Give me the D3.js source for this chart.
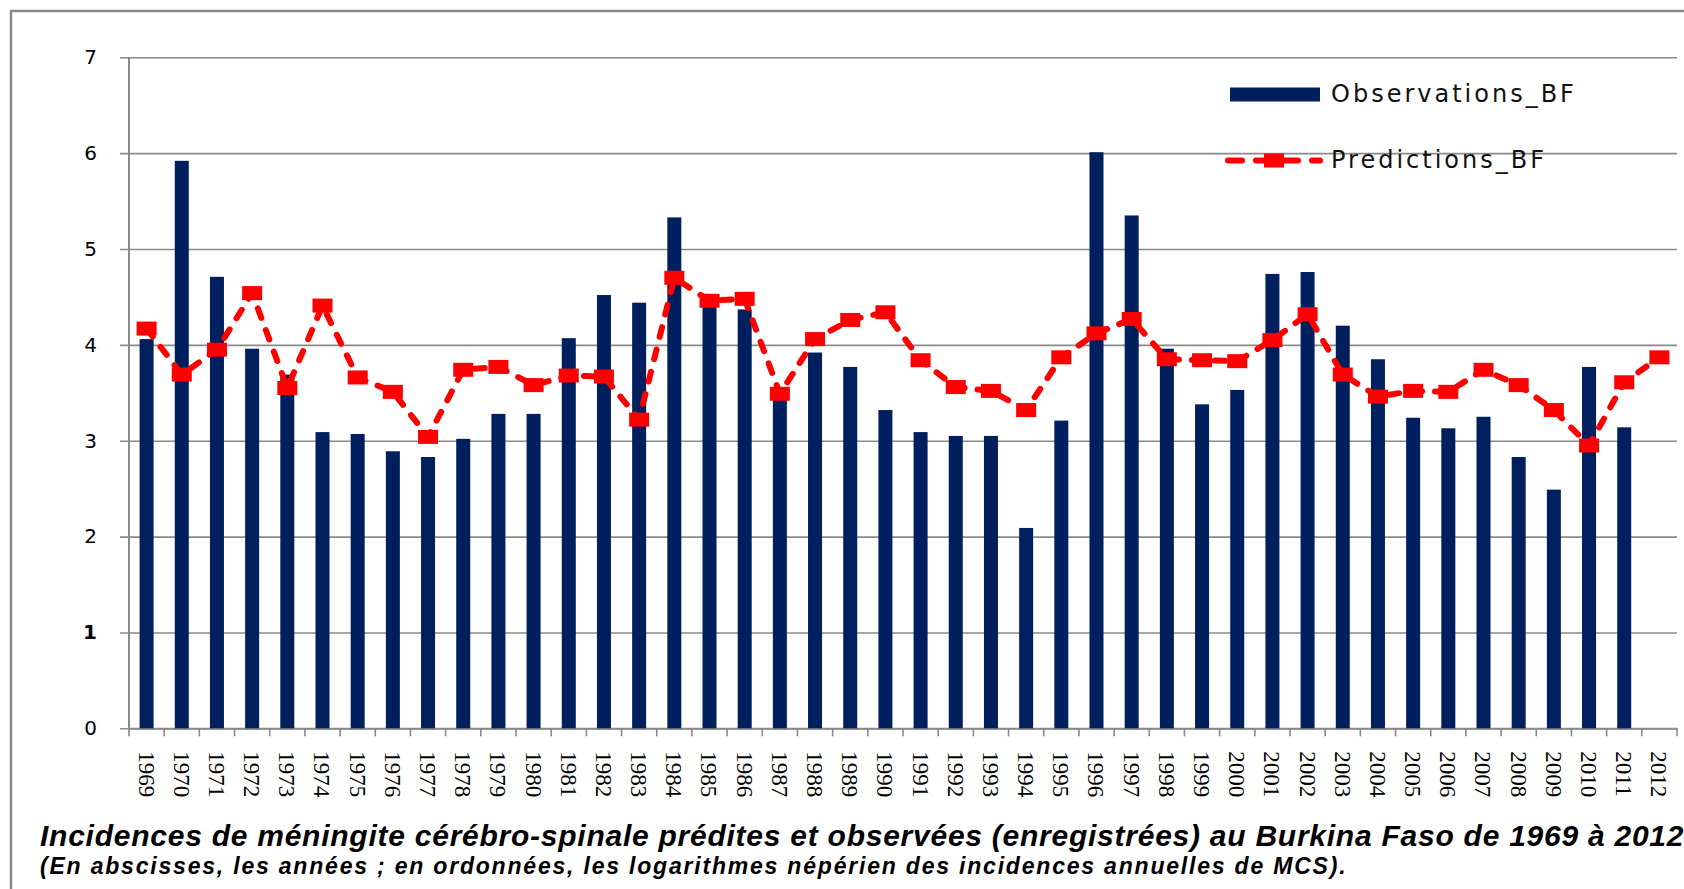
<!DOCTYPE html>
<html>
<head>
<meta charset="utf-8">
<script src="https://cdnjs.cloudflare.com/ajax/libs/d3/7.8.5/d3.min.js"></script>
<style>
    body { margin: 0; background: #fff; }
    svg { display: block; }
</style>
</head>
<body>
<svg width="1684" height="889"></svg>
<script>
// values
var years = ["1969", "1970", "1971", "1972", "1973", "1974", "1975", "1976", "1977", "1978",
    "1979", "1980", "1981", "1982", "1983", "1984", "1985", "1986", "1987", "1988",
    "1989", "1990", "1991", "1992", "1993", "1994", "1995", "1996", "1997", "1998",
    "1999", "2000", "2001", "2002", "2003", "2004", "2005", "2006", "2007", "2008",
    "2009", "2010", "2011", "2012"];

var observations = [4.06, 5.92, 4.71, 3.96, 3.69, 3.09, 3.07, 2.89, 2.83, 3.02,
    3.28, 3.28, 4.07, 4.52, 4.44, 5.33, 4.45, 4.37, 3.45, 3.92,
    3.77, 3.32, 3.09, 3.05, 3.05, 2.09, 3.21, 6.01, 5.35, 3.96,
    3.38, 3.53, 4.74, 4.76, 4.20, 3.85, 3.24, 3.13, 3.25, 2.83,
    2.49, 3.77, 3.14, null];

var predictions = [4.17, 3.69, 3.95, 4.54, 3.55, 4.41, 3.66, 3.51, 3.04, 3.74,
    3.77, 3.58, 3.68, 3.67, 3.22, 4.70, 4.46, 4.48, 3.49, 4.06,
    4.26, 4.34, 3.84, 3.56, 3.52, 3.32, 3.87, 4.12, 4.27, 3.85,
    3.84, 3.83, 4.05, 4.32, 3.69, 3.46, 3.52, 3.51, 3.74, 3.58,
    3.32, 2.95, 3.61, 3.87];

var yTicks = [0, 1, 2, 3, 4, 5, 6, 7];

var seriesNames = ["Observations_BF", "Predictions_BF"];

var captionTitle = "Incidences de méningite cérébro-spinale prédites et observées (enregistrées) au Burkina Faso de 1969 à 2012";
var captionNote = "(En abscisses, les années ; en ordonnées, les logarithmes népérien des incidences annuelles de MCS).";

(function () {
    var navy = "#001f5f";
    var red = "#ff0000";
    var grey = "#8a8a8a";

    var plot = { left: 129, right: 1677, top: 57.3, bottom: 728.3 };

    var svg = d3.select("svg");

    var x = d3.scaleBand().domain(years).range([plot.left, plot.right]).padding(0);
    var y = d3.scaleLinear().domain([0, 7]).range([plot.bottom, plot.top]);

    // outer frame (runs off the right and bottom of the picture)
    svg.append("path")
        .attr("d", "M11,889V11H1684")
        .attr("fill", "none")
        .attr("stroke", grey)
        .attr("stroke-width", 2.5);

    // y axis with gridlines
    var yAxis = svg.append("g")
        .attr("transform", "translate(" + (plot.left - 9) + ",0)")
        .call(d3.axisLeft(y)
            .tickValues(yTicks)
            .tickFormat(d3.format("d"))
            .tickSize(-(plot.right - plot.left + 9))
            .tickPadding(23));

    yAxis.select(".domain").remove();
    yAxis.selectAll(".tick line")
        .attr("stroke", grey)
        .attr("stroke-width", 1.6);
    yAxis.selectAll(".tick text")
        .attr("font-family", "DejaVu Sans, sans-serif")
        .attr("font-size", 20)
        .attr("font-weight", function (d) { return d === 1 ? "bold" : "normal"; })
        .attr("fill", "#000");

    svg.append("line")
        .attr("x1", plot.left).attr("x2", plot.left)
        .attr("y1", y(7)).attr("y2", y(0))
        .attr("stroke", grey)
        .attr("stroke-width", 2);

    // x axis: labels centred on bands, ticks on band edges
    var xAxis = svg.append("g")
        .attr("transform", "translate(0," + y(0) + ")")
        .call(d3.axisBottom(x).tickSize(0));

    xAxis.select(".domain")
        .attr("stroke", grey)
        .attr("stroke-width", 2);

    xAxis.selectAll(".tick text")
        .attr("transform", "rotate(90)")
        .attr("x", 23)
        .attr("y", 0)
        .attr("dy", "0.35em")
        .attr("text-anchor", "start")
        .attr("font-family", "Liberation Serif, serif")
        .attr("font-size", 23)
        .attr("fill", "#000");

    xAxis.selectAll(".edge")
        .data(years.concat(["end"]))
        .enter().append("line")
        .attr("class", "edge")
        .attr("x1", function (d) { return d === "end" ? plot.right : x(d); })
        .attr("x2", function (d) { return d === "end" ? plot.right : x(d); })
        .attr("y1", 0)
        .attr("y2", 8)
        .attr("stroke", grey)
        .attr("stroke-width", 1.6);

    // bars
    var barWidth = 14;
    svg.append("g").selectAll(".bar")
        .data(years.map(function (yr, i) { return { year: yr, value: observations[i] }; })
            .filter(function (d) { return d.value !== null; }))
        .enter().append("rect")
        .attr("class", "bar")
        .attr("x", function (d) { return x(d.year) + x.bandwidth() / 2 - barWidth / 2; })
        .attr("y", function (d) { return y(d.value); })
        .attr("width", barWidth)
        .attr("height", function (d) { return y(0) - y(d.value); })
        .attr("fill", navy);

    // predictions line
    var pred = years.map(function (yr, i) { return { year: yr, value: predictions[i] }; });

    var line = d3.line()
        .x(function (d) { return x(d.year) + x.bandwidth() / 2; })
        .y(function (d) { return y(d.value); });

    svg.append("path")
        .datum(pred)
        .attr("d", line)
        .attr("fill", "none")
        .attr("stroke", red)
        .attr("stroke-width", 6)
        .attr("stroke-linecap", "round")
        .attr("stroke-linejoin", "round")
        .attr("stroke-dasharray", "10,13");

    svg.append("g").selectAll(".marker")
        .data(pred)
        .enter().append("rect")
        .attr("class", "marker")
        .attr("x", function (d) { return x(d.year) + x.bandwidth() / 2 - 10; })
        .attr("y", function (d) { return y(d.value) - 7; })
        .attr("width", 20)
        .attr("height", 14)
        .attr("fill", red);

    // legend
    var legend = svg.append("g");

    legend.append("rect")
        .attr("x", 1230).attr("y", 87.5)
        .attr("width", 90).attr("height", 14)
        .attr("fill", navy);

    legend.append("line")
        .attr("x1", 1228).attr("x2", 1320)
        .attr("y1", 160.5).attr("y2", 160.5)
        .attr("stroke", red)
        .attr("stroke-width", 6)
        .attr("stroke-linecap", "round")
        .attr("stroke-dasharray", "14,14");

    legend.append("rect")
        .attr("x", 1264).attr("y", 153.5)
        .attr("width", 20).attr("height", 14)
        .attr("fill", red);

    legend.selectAll(".legend-label")
        .data(seriesNames)
        .enter().append("text")
        .attr("class", "legend-label")
        .attr("x", 1331)
        .attr("y", function (d, i) { return i === 0 ? 102 : 168; })
        .attr("font-family", "DejaVu Sans, sans-serif")
        .attr("font-size", 24)
        .attr("letter-spacing", 3)
        .attr("fill", "#111")
        .text(function (d) { return d; });

    // caption (the first line runs off the right edge, as in the original)
    svg.append("text")
        .attr("x", 40).attr("y", 846)
        .attr("font-family", "Liberation Sans, Arial, sans-serif")
        .attr("font-size", 30)
        .attr("letter-spacing", 0.75)
        .attr("font-weight", "bold")
        .attr("font-style", "italic")
        .attr("fill", "#000")
        .text(captionTitle);

    svg.append("text")
        .attr("x", 40).attr("y", 874)
        .attr("font-family", "Liberation Sans, Arial, sans-serif")
        .attr("font-size", 23)
        .attr("letter-spacing", 1.8)
        .attr("font-weight", "bold")
        .attr("font-style", "italic")
        .attr("fill", "#000")
        .text(captionNote);
}());
</script>
</body>
</html>
